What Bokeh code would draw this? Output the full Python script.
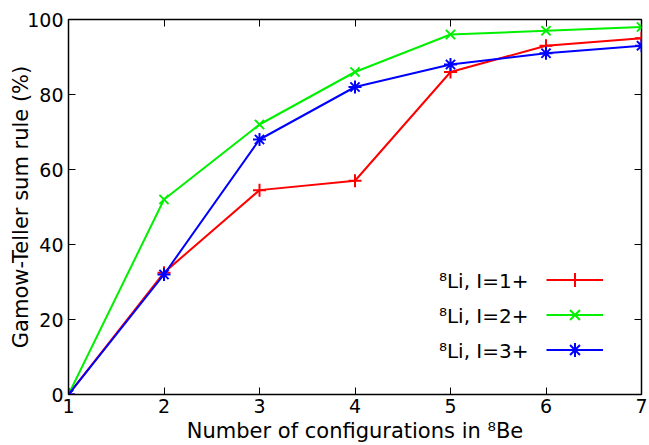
from bokeh.plotting import figure
from bokeh.models import LinearAxis, FixedTicker, Legend, LegendItem, Label, Range1d
from bokeh.embed import file_html
from bokeh.resources import INLINE

configs = [1, 2, 3, 4, 5, 6, 7]
li_1plus = [0, 32.5, 54.5, 57, 86, 93, 95]
li_2plus = [0, 52, 72, 86, 96, 97, 98]
li_3plus = [0, 32, 68, 82, 88, 91, 93]
labels = ["\u2078Li, I=1+", "\u2078Li, I=2+", "\u2078Li, I=3+"]
colors = ["#ff0000", "#00f000", "#0000ff"]
markers = ["cross", "x", "asterisk"]
x_ticks = [1, 2, 3, 4, 5, 6, 7]
y_ticks = [0, 20, 40, 60, 80, 100]

FONT = "DejaVu Sans"

p = figure(width=649, height=445, output_backend="svg", toolbar_location=None,
           x_range=Range1d(1, 7), y_range=Range1d(0, 100),
           min_border_left=68, min_border_right=8, min_border_top=19, min_border_bottom=51)
p.xgrid.visible = False
p.ygrid.visible = False
p.outline_line_color = "black"
p.outline_line_width = 1.5

xa = p.xaxis[0]
ya = p.yaxis[0]
xa.ticker = FixedTicker(ticks=x_ticks)
ya.ticker = FixedTicker(ticks=y_ticks)
for ax in (xa, ya):
    ax.major_tick_in = 7
    ax.major_tick_out = 0
    ax.minor_tick_line_color = None
    ax.axis_line_color = None
    ax.major_label_text_font = FONT
    ax.major_label_text_font_size = "19px"
    ax.major_label_text_color = "black"
    ax.axis_label_text_font = FONT
    ax.axis_label_text_font_style = "normal"
    ax.axis_label_text_color = "black"
xa.axis_label = "Number of configurations in \u2078Be"
ya.axis_label = "Gamow-Teller sum rule (%)"
xa.axis_label_text_font_size = "21px"
ya.axis_label_text_font_size = "21px"
xa.major_label_standoff = 4
ya.major_label_standoff = 5
xa.axis_label_standoff = 3
ya.axis_label_standoff = -9

top = LinearAxis(ticker=FixedTicker(ticks=x_ticks), major_tick_in=7, major_tick_out=0,
                 minor_tick_line_color=None, axis_line_color=None,
                 major_label_text_font_size="0px")
top.major_label_overrides = {t: "" for t in x_ticks}
right = LinearAxis(ticker=FixedTicker(ticks=y_ticks), major_tick_in=7, major_tick_out=0,
                   minor_tick_line_color=None, axis_line_color=None,
                   major_label_text_font_size="0px")
right.major_label_overrides = {t: "" for t in y_ticks}
p.add_layout(top, "above")
p.add_layout(right, "right")

items = []
for ys, c, m in zip([li_1plus, li_2plus, li_3plus], colors, markers):
    r1 = p.line(configs, ys, line_color=c, line_width=2)
    r2 = p.scatter(configs, ys, marker=m, size=13, line_color=c, line_width=2)
    items.append(LegendItem(label="", renderers=[r1, r2]))

legend = Legend(items=items, location=(478, 27), glyph_width=57, glyph_height=35,
                label_width=0, label_standoff=0, label_text_font_size="1px",
                padding=0, margin=0, spacing=0, border_line_color=None,
                background_fill_alpha=0)
p.add_layout(legend, "center")

for i, lab in enumerate(labels):
    p.add_layout(Label(x=460, y=114 - 35 * i, x_units="screen", y_units="screen",
                       text=lab, text_font=FONT, text_font_size="20px",
                       text_align="right", text_baseline="middle", text_color="black"))

open("out.html", "w").write(file_html(p, INLINE))
